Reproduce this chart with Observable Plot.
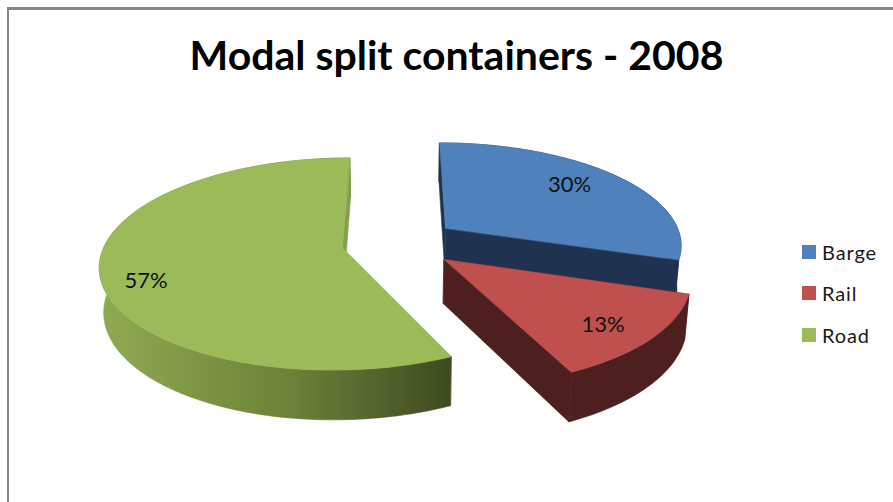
<!DOCTYPE html>
<html>
<head>
<meta charset="utf-8">
<script src="https://cdn.jsdelivr.net/npm/d3@7"></script>
<script src="https://cdn.jsdelivr.net/npm/@observablehq/plot@0.6"></script>
<style>
  html, body { margin: 0; padding: 0; background: #fff; width: 893px; height: 502px; overflow: hidden; }
  #frame { position: absolute; left: 7px; top: 7px; width: 900px; height: 520px; border-left: 2px solid #868686; border-top: 3px solid #868686; box-sizing: border-box; }
  #title { position: absolute; left: 0; top: 0; width: 913px; height: 90px; text-align: center; font: 700 41px/110px Lato, sans-serif; color: #000; }
  #plot { position: absolute; left: 0; top: 90px; }
  #plot svg { display: block; background: transparent; }
  #legend { position: absolute; left: 802px; top: 231px; font: 400 20px Lato, sans-serif; color: #1a1a1a; letter-spacing: 0.9px; }
  .row { display: flex; align-items: center; height: 41.5px; }
  .sw { width: 14px; height: 14px; margin-right: 6px; }
</style>
</head>
<body>
<div id="frame"></div>
<div id="title">Modal split containers - 2008</div>
<div id="plot"></div>
<div id="legend"></div>
<script>
const categories = ["Barge", "Rail", "Road"];
const shares = [30, 13, 57];
const topColors = ["#4f81bd", "#c0504d", "#9bbb59"];
const sideColors = ["#1f3350", "#4d1f1e", "url(#roadSide)"];
const cutColors = ["#1f3350", "#4d1f1e", "#85a04c"];
const labelTurns = [-3.2, 2.2, -9.1];
const labelReach = [0.756, 0.805, 0.831];

// view geometry of the tilted, exploded pie
const W = 893, H = 412, cx = 399, cy = 152, rx = 237, ry = 102;
const k = 0.15, explode = 0.245, shrink = 0.985, depth = 43.5 / 102;
const rad = Math.PI / 180;

function project(u, v, low) {
  const den = 1 - k * v;
  return low
    ? {x: u * shrink / den, y: (v * shrink + depth) / den}
    : {x: u / den, y: v / den};
}

const total = d3.sum(shares);
let acc = 0;
const slices = shares.map((value, i) => {
  const a0 = acc / total * 360;
  acc += value;
  const a1 = acc / total * 360;
  const mid = (a0 + a1) / 2;
  const ou = explode * Math.sin(mid * rad), ov = -explode * Math.cos(mid * rad);
  const rim = (a, low) => project(ou + Math.sin(a * rad), ov - Math.cos(a * rad), low);
  const angles = d3.range(a0, a1, 1).concat(a1);
  const apex = low => project(ou, ov, low);
  const lab = (mid + labelTurns[i]) * rad;
  const reach = labelReach[i];
  return {
    i, value, mid,
    top: [apex(false), ...angles.map(a => rim(a, false))],
    side: [...angles.map(a => rim(a, false)), ...angles.slice().reverse().map(a => rim(a, true))],
    cutA: [apex(false), rim(a0, false), rim(a0, true), apex(true)],
    cutB: [apex(false), rim(a1, false), rim(a1, true), apex(true)],
    label: {...project(ou + reach * Math.sin(lab), ov - reach * Math.cos(lab), false), text: value + "%"}
  };
});

const defs = () => {
  const d = d3.create("svg:defs");
  const g = d.append("linearGradient").attr("id", "roadSide").attr("x1", 0).attr("x2", 1).attr("y1", 0).attr("y2", 0);
  g.append("stop").attr("offset", "0%").attr("stop-color", "#8fab52");
  g.append("stop").attr("offset", "55%").attr("stop-color", "#6b8138");
  g.append("stop").attr("offset", "100%").attr("stop-color", "#3e4a21");
  return d.node();
};

const poly = (pts, color) => Plot.line(pts, {x: "x", y: "y", fill: color, stroke: color, strokeWidth: 0.6, curve: "linear-closed"});

const marks = [defs];
for (const s of slices) {
  marks.push(poly(s.cutA, cutColors[s.i]));
  marks.push(poly(s.side, sideColors[s.i]));
  marks.push(poly(s.cutB, cutColors[s.i]));
  marks.push(poly(s.top, topColors[s.i]));
}
marks.push(Plot.text(slices.map(s => s.label), {
  x: "x", y: "y", text: "text", fontSize: 22, fontFamily: "Lato, sans-serif", fill: "#111"
}));

const chart = Plot.plot({
  width: W, height: H, margin: 0,
  x: {axis: null, domain: [-cx / rx, (W - cx) / rx], range: [0, W]},
  y: {axis: null, domain: [-cy / ry, (H - cy) / ry], range: [0, H]},
  marks
});
document.getElementById("plot").appendChild(chart);

const legend = d3.select("#legend");
categories.forEach((c, i) => {
  const row = legend.append("div").attr("class", "row");
  row.append("div").attr("class", "sw").style("background", topColors[i]);
  row.append("div").text(c);
});
</script>
</body>
</html>
